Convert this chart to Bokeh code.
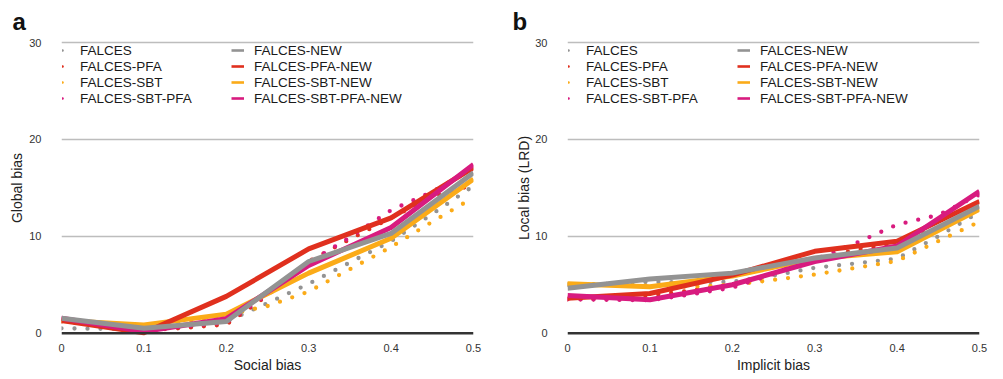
from bokeh.plotting import figure
from bokeh.layouts import row
from bokeh.models import Legend, LegendItem, FixedTicker, Span, Range1d
from bokeh.embed import file_html
from bokeh.resources import INLINE

# ---------------- data ----------------
SERIES_DOT = ["FALCES", "FALCES-PFA", "FALCES-SBT", "FALCES-SBT-PFA"]
SERIES_NEW = ["FALCES-NEW", "FALCES-PFA-NEW", "FALCES-SBT-NEW", "FALCES-SBT-PFA-NEW"]
COLORS = ["#939393", "#e0301e", "#fbab18", "#d81b7f"]

X_NEW = [0, 0.1, 0.2, 0.3, 0.4, 0.5]
X_DOT = [0, 0.05, 0.1, 0.15, 0.2, 0.25, 0.3, 0.35, 0.4, 0.45, 0.5]

X_TICKS = [0, 0.1, 0.2, 0.3, 0.4, 0.5]
X_TICK_LABELS = ["0", "0.1", "0.2", "0.3", "0.4", "0.5"]
Y_TICKS = [0, 10, 20, 30]

# panel a: Global bias vs Social bias
A_FALCES = [0.5, 0.45, 0.4, 0.6, 1.2, 3.1, 5.1, 7.3, 9.5, 12.3, 15.2]
A_FALCES_PFA = [1.2, 0.9, 0.3, 0.55, 0.9, 3.9, 7.4, 9.7, 11.9, 14.1, 15.3]
A_FALCES_SBT = [1.3, 1.0, 0.8, 1.2, 1.9, 2.8, 4.3, 6.6, 8.9, 11.5, 14.0]
A_FALCES_SBT_PFA = [1.5, 1.0, 0.3, 0.7, 1.1, 4.0, 7.3, 9.9, 12.7, 14.6, 17.0]

A_FALCES_NEW = [1.55, 0.52, 1.2, 7.4, 10.3, 16.55]
A_FALCES_PFA_NEW = [1.3, 0.05, 3.8, 8.7, 11.9, 17.1]
A_FALCES_SBT_NEW = [1.3, 0.86, 1.97, 6.2, 9.8, 15.9]
A_FALCES_SBT_PFA_NEW = [1.55, 0.17, 1.5, 7.0, 10.9, 17.4]

# panel b: Local bias (LRD) vs Implicit bias
B_FALCES = [5.0, 5.1, 5.3, 5.25, 5.3, 5.95, 6.75, 7.2, 7.7, 10.0, 12.5]
B_FALCES_PFA = [3.5, 3.5, 3.9, 4.4, 5.0, 6.2, 7.6, 8.6, 9.3, 10.9, 12.7]
B_FALCES_SBT = [5.1, 5.0, 4.9, 4.8, 5.0, 5.5, 6.05, 6.75, 7.45, 9.5, 11.5]
B_FALCES_SBT_PFA = [3.5, 3.45, 3.4, 4.0, 4.7, 6.1, 7.6, 9.3, 11.2, 12.2, 14.3]

B_FALCES_NEW = [4.65, 5.6, 6.2, 7.76, 8.8, 13.1]
B_FALCES_PFA_NEW = [3.6, 4.1, 6.0, 8.45, 9.5, 13.6]
B_FALCES_SBT_NEW = [5.1, 4.8, 5.9, 7.7, 8.4, 12.8]
B_FALCES_SBT_PFA_NEW = [3.9, 3.45, 5.0, 7.4, 9.0, 14.65]

FONT = "Liberation Sans"
NEW_DRAW_ORDER = [2, 1, 3, 0]  # orange, red, magenta, gray on top
NAN = float("nan")


def make_panel(letter, xlabel, ylabel, dots, news, left, right, letter_offset, ylab_standoff):
    p = figure(frame_width=412, frame_height=297,
               x_range=Range1d(0, 0.5), y_range=Range1d(-0.34, 30.31),
               output_backend="svg", toolbar_location=None,
               min_border_left=left, min_border_right=right,
               min_border_top=39, min_border_bottom=30,
               background_fill_color="white", border_fill_color="white",
               outline_line_color=None)
    p.title.text = letter
    p.title.text_font = FONT
    p.title.text_font_size = "24px"
    p.title.text_font_style = "bold"
    p.title.text_color = "#111111"
    p.title.align = "left"
    p.title.offset = letter_offset
    p.title.standoff = 10

    # grid & axes
    p.xgrid.visible = False
    p.ygrid.ticker = FixedTicker(ticks=Y_TICKS[1:])
    p.ygrid.grid_line_color = "#bdbdbd"
    p.ygrid.grid_line_width = 1.3

    p.xaxis.ticker = FixedTicker(ticks=X_TICKS)
    p.xaxis.major_label_overrides = {t: l for t, l in zip(X_TICKS, X_TICK_LABELS)}
    p.yaxis.ticker = FixedTicker(ticks=Y_TICKS)
    for ax in (p.xaxis[0], p.yaxis[0]):
        ax.axis_line_color = None
        ax.major_tick_line_color = None
        ax.minor_tick_line_color = None
        ax.major_label_text_font = FONT
        ax.major_label_text_font_size = "11px"
        ax.major_label_text_color = "#333333"
        ax.axis_label_text_font = FONT
        ax.axis_label_text_font_size = "14px"
        ax.axis_label_text_font_style = "normal"
        ax.axis_label_text_color = "#222222"
    p.xaxis.axis_label = xlabel
    p.xaxis.major_label_standoff = 1
    p.xaxis.axis_label_standoff = 2
    p.yaxis.axis_label = ylabel
    p.yaxis.major_label_standoff = 14
    p.yaxis.axis_label_standoff = ylab_standoff

    p.add_layout(Span(location=0, dimension="width", line_color="#333333", line_width=2.6))

    # dotted series
    for ys, c in zip(dots, COLORS):
        p.line(X_DOT, ys, line_color=c, line_width=4.3, line_dash="0 13", line_cap="round")
    # solid series
    for i in NEW_DRAW_ORDER:
        p.line(X_NEW, news[i], line_color=COLORS[i], line_width=5, line_join="round")

    # legend-only renderers (nothing drawn in the plot)
    items1, items2 = [], []
    for name, c in zip(SERIES_DOT, COLORS):
        r = p.line([NAN], [NAN], line_color=c, line_width=2.6, line_dash="0 40", line_cap="round")
        items1.append(LegendItem(label=name, renderers=[r]))
    for name, c in zip(SERIES_NEW, COLORS):
        r = p.line([NAN], [NAN], line_color=c, line_width=2.6)
        items2.append(LegendItem(label=name, renderers=[r]))

    for items, x, standoff in ((items1, 1, 5), (items2, 170, 10)):
        lg = Legend(items=items, location=(x, 230), orientation="vertical",
                    padding=0, margin=0, spacing=0,
                    glyph_width=13, glyph_height=16, label_height=16,
                    label_standoff=standoff,
                    label_text_font=FONT, label_text_font_size="13.5px",
                    label_text_color="#1a1a1a",
                    background_fill_alpha=0, border_line_color=None)
        p.add_layout(lg)
    return p


pa = make_panel("a", "Social bias", "Global bias",
                [A_FALCES, A_FALCES_PFA, A_FALCES_SBT, A_FALCES_SBT_PFA],
                [A_FALCES_NEW, A_FALCES_PFA_NEW, A_FALCES_SBT_NEW, A_FALCES_SBT_PFA_NEW],
                left=61, right=37, letter_offset=-49, ylab_standoff=1)
pb = make_panel("b", "Implicit bias", "Local bias (LRD)",
                [B_FALCES, B_FALCES_PFA, B_FALCES_SBT, B_FALCES_SBT_PFA],
                [B_FALCES_NEW, B_FALCES_PFA_NEW, B_FALCES_SBT_NEW, B_FALCES_SBT_PFA_NEW],
                left=57, right=10, letter_offset=-55, ylab_standoff=0)

layout = row(pa, pb)
open("out.html", "w").write(file_html(layout, INLINE))
